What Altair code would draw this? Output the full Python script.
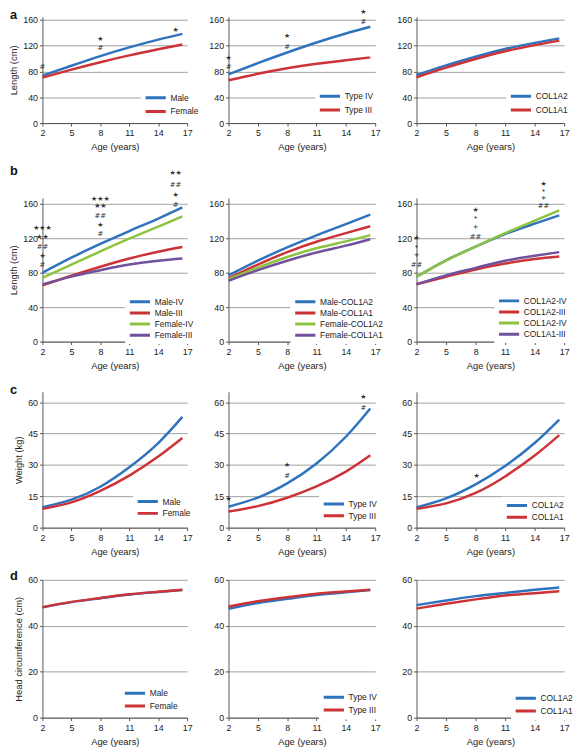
import altair as alt
import pandas as pd

AGES = [2, 5, 8, 11, 14, 16.5]
X_TICKS = [2, 5, 8, 11, 14, 17]

BLUE = "#2f72bd"
RED = "#cc3236"
GREEN = "#8dc43f"
PURPLE = "#71509e"

# ---- row a: length (cm)
A1_NAMES = ["Male", "Female"]
A1_MALE = [73.6, 89, 104, 117.5, 129.5, 138.5]
A1_FEMALE = [70.5, 83, 94.5, 105, 114.5, 122]
A1_NOTE_X = [2, 8, 8, 15.8]
A1_NOTE_Y = [87, 131, 117, 145]
A1_NOTE_T = ["#", "★", "#", "★"]

A2_NAMES = ["Type IV", "Type III"]
A2_TYPE_IV = [75.5, 93, 109.5, 125, 139, 149.5]
A2_TYPE_III = [66.5, 76.5, 85, 92, 97.5, 102]
A2_NOTE_X = [2, 2, 8, 8, 15.8, 15.8]
A2_NOTE_Y = [100.6, 87, 135, 118.7, 172, 157.5]
A2_NOTE_T = ["★", "#", "★", "#", "★", "#"]

A3_NAMES = ["COL1A2", "COL1A1"]
A3_COL1A2 = [74.5, 89.5, 103, 115, 124.5, 131.5]
A3_COL1A1 = [71, 86, 99.5, 111.5, 121, 128]

# ---- row b: length (cm) by sex x type / gene
B1_NAMES = ["Male-IV", "Male-III", "Female-IV", "Female-III"]
B1_MALE_IV = [80, 97.5, 113.5, 128.5, 143, 156]
B1_MALE_III = [65.5, 76.5, 87, 96.5, 104.5, 110]
B1_FEMALE_IV = [74, 89.5, 104.8, 119.6, 133.5, 145.5]
B1_FEMALE_III = [66.5, 75.5, 83, 89.5, 94, 96.5]
B1_NOTE_X = [2, 2, 2, 2, 2, 8, 8, 8, 8, 8, 15.8, 15.8, 15.8, 15.8]
B1_NOTE_Y = [131.4, 122, 109.7, 99, 88.4, 165.7, 157, 146, 135, 125, 196, 182, 170.7, 158.9]
B1_NOTE_T = ["★★★", "★★", "##", "★", "#", "★★★", "★★", "##", "★", "#", "★★", "##", "★", "#"]

B2_NAMES = ["Male-COL1A2", "Male-COL1A1", "Female-COL1A2", "Female-COL1A1"]
B2_MALE_COL1A2 = [77, 94, 109.5, 123.5, 136.5, 147.5]
B2_MALE_COL1A1 = [73.5, 89.5, 104, 116, 126, 134]
B2_FEMALE_COL1A2 = [72.6, 86, 98.3, 108.5, 116.5, 123.7]
B2_FEMALE_COL1A1 = [70.7, 83, 94, 103.5, 111.5, 119]

B3_NAMES = ["COL1A2-IV", "COL1A2-III", "COL1A2-IV ", "COL1A1-III"]
B3_COL1A2_IV = [75.4, 94.5, 110.5, 125, 137, 146.7]
B3_COL1A2_III = [66.7, 75.4, 83.8, 90.7, 96, 99]
B3_COL1A1_IV = [75.4, 94, 110.5, 126, 140.5, 152.4]
B3_COL1A1_III = [66.7, 77, 85.7, 94, 99.8, 104]
B3_NOTE_X = [2, 2, 2, 2, 8, 8, 8, 8, 14.9, 14.9, 14.9, 14.9]
B3_NOTE_Y = [120, 109.7, 100.6, 89.5, 153, 143.6, 133.3, 122, 183.6, 175, 166.9, 157]
B3_NOTE_T = ["★", "•", "+", "##", "★", "•", "+", "##", "★", "•", "+", "##"]

# ---- row c: weight (kg)
C1_NAMES = ["Male", "Female"]
C1_MALE = [9.8, 13.4, 19.6, 28.9, 40.5, 53]
C1_FEMALE = [9, 12.1, 17.6, 24.9, 34, 42.9]

C2_NAMES = ["Type IV", "Type III"]
C2_TYPE_IV = [10, 14.4, 21.2, 30.7, 43.5, 57]
C2_TYPE_III = [7.7, 10.3, 14.3, 19.7, 26.8, 34.6]
C2_NOTE_X = [2, 8, 8, 15.8, 15.8]
C2_NOTE_Y = [13.8, 30.2, 24.8, 62.5, 57.3]
C2_NOTE_T = ["★", "★", "#", "★", "#"]

C3_NAMES = ["COL1A2", "COL1A1"]
C3_COL1A2 = [9.7, 14, 20.7, 29.5, 40.5, 51.7]
C3_COL1A1 = [9, 11.6, 16.6, 24.5, 34.5, 44.3]
C3_NOTE_X = [8.1]
C3_NOTE_Y = [24.7]
C3_NOTE_T = ["★"]

# ---- row d: head circumference (cm)
D1_NAMES = ["Male", "Female"]
D1_MALE = [48.0, 50.3, 52.0, 53.6, 54.7, 55.6]
D1_FEMALE = [48.1, 50.4, 52.1, 53.7, 54.8, 55.7]

D2_NAMES = ["Type IV", "Type III"]
D2_TYPE_IV = [47.4, 49.9, 51.7, 53.4, 54.6, 55.6]
D2_TYPE_III = [48.4, 50.7, 52.4, 53.9, 54.9, 55.7]

D3_NAMES = ["COL1A2", "COL1A1"]
D3_COL1A2 = [49, 51, 52.9, 54.3, 55.7, 56.7]
D3_COL1A1 = [47.5, 49.6, 51.5, 53.2, 54.2, 55]

COL_W = [147, 149, 150]
ROW_H = {"a": 108, "b": 146, "c": 138, "d": 140}
FONT = "Liberation Sans"


def panel(names, series, colors, ymax, yticks, width, height, ytitle,
          leg, notes=None, letter=None):
    rows = []
    for n, vals in zip(names, series):
        for a, v in zip(AGES, vals):
            rows.append({"age": a, "value": v, "series": n})
    df = pd.DataFrame(rows)
    xs = alt.Scale(domain=[2, 17], nice=False, zero=False)
    ys = alt.Scale(domain=[0, ymax], nice=False)
    xax = alt.Axis(values=X_TICKS, title="Age (years)", grid=False,
                   labelFlush=False, labelOverlap=False)
    yax = alt.Axis(values=yticks, title=ytitle, grid=True,
                   labelFlush=False, labelOverlap=False)
    lx, ly, clip, rpad = leg
    lines = alt.Chart(df).mark_line(strokeWidth=2.5, interpolate="natural").encode(
        x=alt.X("age:Q", scale=xs, axis=xax),
        y=alt.Y("value:Q", scale=ys, axis=yax),
        color=alt.Color(
            "series:N",
            scale=alt.Scale(domain=names, range=colors),
            legend=alt.Legend(
                title=None, orient="none", legendX=lx, legendY=ly,
                symbolType="stroke", symbolSize=420, symbolStrokeWidth=3,
                clipHeight=clip, rowPadding=rpad, labelFontSize=8.5,
                labelFont=FONT, labelColor="#222", labelOffset=3,
                padding=3, fillColor="white", labelLimit=200,
            ),
        ),
    )
    layers = [lines]
    if notes is not None:
        nx, ny, nt = notes
        ndf = pd.DataFrame({"age": nx, "value": ny, "label": nt})
        layers.append(
            alt.Chart(ndf).mark_text(fontSize=7, color="#333", font="DejaVu Sans",
                                     baseline="middle").encode(
                x=alt.X("age:Q", scale=xs, axis=xax),
                y=alt.Y("value:Q", scale=ys, axis=yax),
                text="label:N",
            )
        )
    if letter is not None:
        t, ty = letter
        layers.append(
            alt.Chart(pd.DataFrame({"t": [t]})).mark_text(
                fontSize=13, fontWeight="bold", font=FONT, align="left",
                baseline="alphabetic", color="#111").encode(
                x=alt.value(-33), y=alt.value(ty), text="t:N")
        )
    return alt.layer(*layers).properties(width=width, height=height)


LEN_A = [0, 40, 80, 120, 160]
W_T = [0, 15, 30, 45, 60]
H_T = [0, 20, 40, 60]

a1 = panel(A1_NAMES, [A1_MALE, A1_FEMALE], [BLUE, RED], 165, LEN_A, COL_W[0], ROW_H["a"],
           "Length (cm)", (100, 72.5, 13.5, 0), (A1_NOTE_X, A1_NOTE_Y, A1_NOTE_T), ("a", 2))
a2 = panel(A2_NAMES, [A2_TYPE_IV, A2_TYPE_III], [BLUE, RED], 165, LEN_A, COL_W[1], ROW_H["a"],
           None, (88, 71, 13.5, 0), (A2_NOTE_X, A2_NOTE_Y, A2_NOTE_T))
a3 = panel(A3_NAMES, [A3_COL1A2, A3_COL1A1], [BLUE, RED], 165, LEN_A, COL_W[2], ROW_H["a"],
           None, (91, 71, 13.5, 0))

b1 = panel(B1_NAMES, [B1_MALE_IV, B1_MALE_III, B1_FEMALE_IV, B1_FEMALE_III],
           [BLUE, RED, GREEN, PURPLE], 167, LEN_A, COL_W[0], ROW_H["b"],
           "Length (cm)", (84, 97.5, 10.2, 0.3), (B1_NOTE_X, B1_NOTE_Y, B1_NOTE_T), ("b", -23))
b2 = panel(B2_NAMES, [B2_MALE_COL1A2, B2_MALE_COL1A1, B2_FEMALE_COL1A2, B2_FEMALE_COL1A1],
           [BLUE, RED, GREEN, PURPLE], 167, LEN_A, COL_W[1], ROW_H["b"],
           None, (63, 97.5, 10.2, 0.3))
b3 = panel(B3_NAMES, [B3_COL1A2_IV, B3_COL1A2_III, B3_COL1A1_IV, B3_COL1A1_III],
           [BLUE, RED, GREEN, PURPLE], 167, LEN_A, COL_W[2], ROW_H["b"],
           None, (79, 96.5, 10.2, 0.3), (B3_NOTE_X, B3_NOTE_Y, B3_NOTE_T))

c1 = panel(C1_NAMES, [C1_MALE, C1_FEMALE], [BLUE, RED], 65, W_T, COL_W[0], ROW_H["c"],
           "Weight (kg)", (92, 102.5, 12, 0), None, ("c", 2))
c2 = panel(C2_NAMES, [C2_TYPE_IV, C2_TYPE_III], [BLUE, RED], 65, W_T, COL_W[1], ROW_H["c"],
           None, (92, 105, 12, 0), (C2_NOTE_X, C2_NOTE_Y, C2_NOTE_T))
c3 = panel(C3_NAMES, [C3_COL1A2, C3_COL1A1], [BLUE, RED], 65, W_T, COL_W[2], ROW_H["c"],
           None, (87, 106.5, 12, 0), (C3_NOTE_X, C3_NOTE_Y, C3_NOTE_T))

d1 = panel(D1_NAMES, [D1_MALE, D1_FEMALE], [BLUE, RED], 60, H_T, COL_W[0], ROW_H["d"],
           "Head circumference (cm)", (79, 106, 12.5, 0), None, ("d", 0))
d2 = panel(D2_NAMES, [D2_TYPE_IV, D2_TYPE_III], [BLUE, RED], 60, H_T, COL_W[1], ROW_H["d"],
           None, (92, 110, 12.5, 0))
d3 = panel(D3_NAMES, [D3_COL1A2, D3_COL1A1], [BLUE, RED], 60, H_T, COL_W[2], ROW_H["d"],
           None, (96, 111, 12.5, 0))


def row(p1, p2, p3):
    return alt.hconcat(p1, p2, p3, spacing=42, bounds="flush").resolve_scale(
        x="independent", y="independent", color="independent"
    ).resolve_legend(color="independent")


chart = alt.vconcat(
    row(a1, a2, a3), row(b1, b2, b3), row(c1, c2, c3), row(d1, d2, d3),
    spacing=14,
).resolve_scale(
    x="independent", y="independent", color="independent"
).resolve_legend(color="independent").properties(
    padding={"top": -6, "left": 0, "right": 0, "bottom": 0}
).configure_view(stroke=None).configure_axis(
    labelFont=FONT, titleFont=FONT, labelFontSize=9, titleFontSize=9.5,
    titleFontWeight="normal", labelColor="#222", titleColor="#222",
    domainColor="#555", tickColor="#555", tickSize=3, gridColor="#a0a0a0",
    gridWidth=1, labelPadding=2, titlePadding=4,
).configure_axisX(labelPadding=3, titlePadding=4)

chart.save("out.html", embed_options={"renderer": "svg", "actions": False})
